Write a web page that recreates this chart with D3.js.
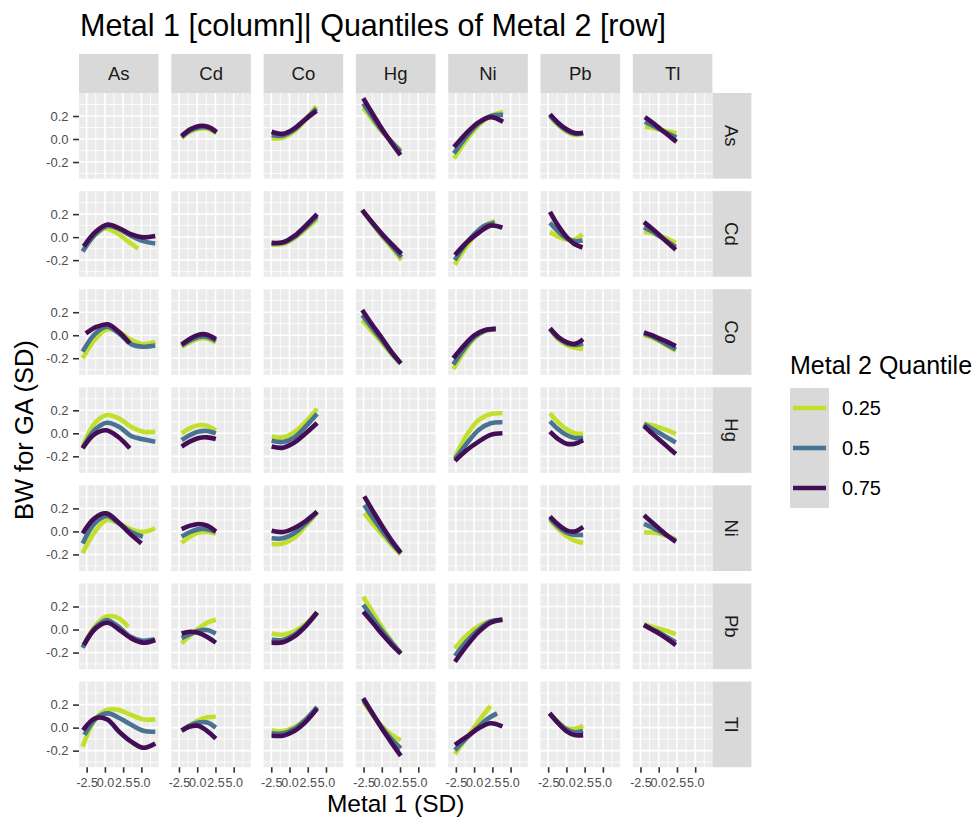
<!DOCTYPE html>
<html>
<head>
<meta charset="utf-8">
<script src="https://cdn.jsdelivr.net/npm/d3@7"></script>
<style>
  body { margin: 0; background: #ffffff; }
  text { font-family: "Liberation Sans", Arial, sans-serif; }
</style>
</head>
<body>
<div id="chart"></div>
<script>

var metals = ["As", "Cd", "Co", "Hg", "Ni", "Pb", "Tl"];
var quantiles = ["0.25", "0.5", "0.75"];
var colours = ["#c3df2d", "#4a7291", "#430e55"];

var xTicks = [-2.5, 0, 2.5, 5];
var xMinor = [-1.25, 1.25, 3.75, 6.25];
var yTicks = [-0.2, 0, 0.2];
var yMinor = [-0.3, -0.1, 0.1, 0.3];
var xLimits = [-3.55, 7.36];
var yLimits = [-0.344, 0.4];

// one row per Metal 2 facet: [metal 1, quantile, first x, last x, fitted values at even steps]
var rowAs = [
	["Cd", "0.25", -2.13, 2.64, [0.01, 0.065, 0.09, 0.09, 0.05]],
	["Cd", "0.5", -2.13, 2.64, [0.018, 0.075, 0.10, 0.10, 0.057]],
	["Cd", "0.75", -2.13, 2.64, [0.026, 0.084, 0.113, 0.107, 0.063]],
	["Co", "0.25", -2.45, 3.69, [0.005, 0.01, 0.065, 0.165, 0.285]],
	["Co", "0.5", -2.45, 3.69, [0.035, 0.03, 0.08, 0.17, 0.265]],
	["Co", "0.75", -2.45, 3.69, [0.063, 0.045, 0.09, 0.17, 0.245]],
	["Hg", "0.25", -2.54, 2.56, [0.27, 0.165, 0.065, -0.02, -0.095]],
	["Hg", "0.5", -2.54, 2.56, [0.31, 0.19, 0.075, -0.02, -0.11]],
	["Hg", "0.75", -2.54, 2.56, [0.354, 0.22, 0.09, -0.03, -0.14]],
	["Ni", "0.25", -2.76, 3.97, [-0.17, -0.01, 0.12, 0.2, 0.235]],
	["Ni", "0.5", -2.76, 3.97, [-0.125, 0.02, 0.135, 0.2, 0.21]],
	["Ni", "0.75", -2.76, 3.97, [-0.07, 0.05, 0.145, 0.19, 0.15]],
	["Pb", "0.25", -2.25, 2.29, [0.195, 0.12, 0.065, 0.035, 0.045]],
	["Pb", "0.5", -2.25, 2.29, [0.205, 0.13, 0.075, 0.045, 0.05]],
	["Pb", "0.75", -2.25, 2.29, [0.215, 0.14, 0.085, 0.052, 0.055]],
	["Tl", "0.25", -1.89, 2.44, [0.105, 0.095, 0.08, 0.065, 0.05]],
	["Tl", "0.5", -1.89, 2.44, [0.15, 0.115, 0.08, 0.045, 0.015]],
	["Tl", "0.75", -1.89, 2.44, [0.19, 0.14, 0.085, 0.03, -0.025]]
];

var rowCd = [
	["As", "0.25", -3.0, 4.55, [-0.115, 0.01, 0.075, 0.04, -0.03, -0.10]],
	["As", "0.5", -3.05, 6.9, [-0.125, 0.02, 0.095, 0.07, 0.01, -0.035, -0.055]],
	["As", "0.75", -2.9, 6.9, [-0.08, 0.047, 0.11, 0.076, 0.024, -0.002, 0.01]],
	["Co", "0.25", -2.45, 3.78, [-0.065, -0.06, -0.01, 0.07, 0.155]],
	["Co", "0.5", -2.45, 3.78, [-0.055, -0.05, 0.0, 0.085, 0.18]],
	["Co", "0.75", -2.45, 3.78, [-0.05, -0.045, 0.01, 0.1, 0.2]],
	["Hg", "0.25", -2.68, 2.7, [0.23, 0.12, 0.01, -0.09, -0.2]],
	["Hg", "0.5", -2.68, 2.7, [0.235, 0.125, 0.02, -0.075, -0.175]],
	["Hg", "0.75", -2.68, 2.7, [0.235, 0.13, 0.03, -0.06, -0.145]],
	["Ni", "0.25", -2.65, 2.85, [-0.24, -0.1, 0.015, 0.1, 0.14]],
	["Ni", "0.5", -2.65, 2.85, [-0.2, -0.07, 0.03, 0.1, 0.125]],
	["Ni", "0.75", -2.62, 3.88, [-0.156, -0.045, 0.038, 0.1, 0.082]],
	["Pb", "0.25", -2.25, 2.21, [0.045, 0.005, -0.02, -0.02, 0.025]],
	["Pb", "0.5", -2.25, 2.21, [0.125, 0.05, -0.01, -0.035, -0.03]],
	["Pb", "0.75", -2.25, 2.21, [0.22, 0.1, 0.005, -0.06, -0.09]],
	["Tl", "0.25", -2.02, 2.34, [0.045, 0.035, 0.01, -0.015, -0.05]],
	["Tl", "0.5", -2.02, 2.34, [0.085, 0.05, 0.005, -0.04, -0.085]],
	["Tl", "0.75", -2.02, 2.34, [0.13, 0.075, 0.015, -0.05, -0.11]]
];

var rowCo = [
	["As", "0.25", -3.05, 6.9, [-0.2, -0.04, 0.05, 0.03, -0.04, -0.077, -0.057]],
	["As", "0.5", -3.05, 6.9, [-0.143, 0.01, 0.074, 0.016, -0.077, -0.1, -0.09]],
	["As", "0.75", -2.6, 3.41, [0.016, 0.074, 0.095, 0.03, -0.07]],
	["Cd", "0.25", -2.13, 2.55, [-0.1, -0.06, -0.03, -0.03, -0.065]],
	["Cd", "0.5", -2.13, 2.55, [-0.09, -0.045, -0.015, -0.015, -0.05]],
	["Cd", "0.75", -2.13, 2.55, [-0.08, -0.03, 0.005, 0.005, -0.035]],
	["Hg", "0.25", -2.68, 2.6, [0.13, 0.035, -0.06, -0.16, -0.245]],
	["Hg", "0.5", -2.68, 2.6, [0.175, 0.065, -0.04, -0.15, -0.245]],
	["Hg", "0.75", -2.68, 2.6, [0.22, 0.095, -0.02, -0.14, -0.245]],
	["Ni", "0.25", -2.85, 2.97, [-0.295, -0.145, -0.025, 0.035, 0.05]],
	["Ni", "0.5", -2.85, 2.97, [-0.255, -0.12, -0.015, 0.04, 0.055]],
	["Ni", "0.75", -2.85, 2.97, [-0.2, -0.09, 0.0, 0.045, 0.055]],
	["Pb", "0.25", -2.25, 2.29, [0.05, -0.035, -0.085, -0.11, -0.12]],
	["Pb", "0.5", -2.25, 2.29, [0.055, -0.025, -0.07, -0.085, -0.075]],
	["Pb", "0.75", -2.25, 2.29, [0.06, -0.015, -0.06, -0.075, -0.035]],
	["Tl", "0.25", -2.02, 2.34, [0.0, -0.02, -0.055, -0.095, -0.135]],
	["Tl", "0.5", -2.02, 2.34, [0.015, -0.01, -0.045, -0.085, -0.125]],
	["Tl", "0.75", -2.02, 2.34, [0.025, 0.0, -0.03, -0.06, -0.095]]
];

var rowHg = [
	["As", "0.25", -3.05, 6.9, [-0.116, 0.087, 0.159, 0.13, 0.057, 0.014, 0.014]],
	["As", "0.5", -3.05, 6.9, [-0.13, 0.029, 0.092, 0.057, -0.023, -0.052, -0.073]],
	["As", "0.75", -3.05, 3.41, [-0.13, -0.01, 0.026, -0.03, -0.13]],
	["Cd", "0.25", -2.13, 2.55, [0.0, 0.045, 0.07, 0.065, 0.025]],
	["Cd", "0.5", -2.13, 2.55, [-0.058, -0.015, 0.015, 0.02, 0.0]],
	["Cd", "0.75", -2.13, 2.55, [-0.115, -0.07, -0.04, -0.035, -0.05]],
	["Co", "0.25", -2.45, 3.78, [-0.03, -0.035, 0.01, 0.1, 0.215]],
	["Co", "0.5", -2.45, 3.78, [-0.065, -0.075, -0.035, 0.06, 0.17]],
	["Co", "0.75", -2.45, 3.78, [-0.115, -0.125, -0.08, 0.0, 0.09]],
	["Ni", "0.25", -2.62, 3.88, [-0.207, -0.014, 0.116, 0.168, 0.174]],
	["Ni", "0.5", -2.62, 3.88, [-0.225, -0.087, 0.029, 0.087, 0.096]],
	["Ni", "0.75", -2.62, 3.88, [-0.24, -0.145, -0.072, -0.014, 0.0]],
	["Pb", "0.25", -2.25, 2.29, [0.175, 0.095, 0.035, 0.0, -0.005]],
	["Pb", "0.5", -2.25, 2.29, [0.105, 0.035, -0.015, -0.04, -0.04]],
	["Pb", "0.75", -2.25, 2.29, [0.015, -0.05, -0.09, -0.09, -0.06]],
	["Tl", "0.25", -2.02, 2.34, [0.085, 0.07, 0.05, 0.025, -0.005]],
	["Tl", "0.5", -2.02, 2.34, [0.08, 0.04, 0.0, -0.04, -0.08]],
	["Tl", "0.75", -2.02, 2.34, [0.065, 0.0, -0.06, -0.12, -0.18]]
];

var rowNi = [
	["As", "0.25", -3.05, 6.9, [-0.19, -0.003, 0.099, 0.07, 0.018, -0.003, 0.027]],
	["As", "0.5", -3.05, 5.2, [-0.104, 0.07, 0.134, 0.07, -0.003, -0.046]],
	["As", "0.75", -3.05, 5.0, [-0.017, 0.114, 0.157, 0.084, -0.017, -0.104]],
	["Cd", "0.25", -2.13, 2.55, [-0.1, -0.045, -0.01, -0.005, -0.02]],
	["Cd", "0.5", -2.13, 2.55, [-0.045, -0.005, 0.02, 0.02, -0.005]],
	["Cd", "0.75", -2.13, 2.55, [0.02, 0.05, 0.065, 0.05, 0.0]],
	["Co", "0.25", -2.45, 3.78, [-0.11, -0.105, -0.055, 0.05, 0.165]],
	["Co", "0.5", -2.45, 3.78, [-0.06, -0.06, -0.015, 0.07, 0.17]],
	["Co", "0.75", -2.45, 3.78, [0.005, -0.005, 0.03, 0.09, 0.17]],
	["Hg", "0.25", -2.4, 2.6, [0.16, 0.06, -0.03, -0.12, -0.2]],
	["Hg", "0.5", -2.4, 2.6, [0.23, 0.11, 0.0, -0.1, -0.19]],
	["Hg", "0.75", -2.4, 2.6, [0.305, 0.17, 0.04, -0.08, -0.185]],
	["Pb", "0.25", -2.25, 2.29, [0.1, 0.02, -0.04, -0.08, -0.1]],
	["Pb", "0.5", -2.25, 2.29, [0.115, 0.04, -0.01, -0.03, -0.03]],
	["Pb", "0.75", -2.25, 2.29, [0.13, 0.06, 0.01, 0.0, 0.04]],
	["Tl", "0.25", -2.02, 2.34, [-0.01, -0.01, -0.02, -0.04, -0.07]],
	["Tl", "0.5", -2.02, 2.34, [0.065, 0.035, 0.0, -0.04, -0.08]],
	["Tl", "0.75", -2.02, 2.34, [0.14, 0.08, 0.02, -0.04, -0.09]]
];

var rowPb = [
	["As", "0.25", -2.95, 3.2, [-0.143, 0.024, 0.111, 0.106, 0.024]],
	["As", "0.5", -3.05, 6.8, [-0.158, 0.01, 0.083, 0.024, -0.063, -0.097, -0.085]],
	["As", "0.75", -2.9, 6.9, [-0.135, 0.01, 0.059, -0.004, -0.077, -0.115, -0.091]],
	["Cd", "0.25", -2.13, 2.55, [-0.12, -0.05, 0.01, 0.06, 0.085]],
	["Cd", "0.5", -2.13, 2.55, [-0.075, -0.04, -0.01, -0.005, -0.035]],
	["Cd", "0.75", -2.13, 2.55, [-0.035, -0.02, -0.03, -0.065, -0.115]],
	["Co", "0.25", -2.45, 3.78, [-0.035, -0.045, -0.015, 0.05, 0.14]],
	["Co", "0.5", -2.45, 3.78, [-0.09, -0.09, -0.045, 0.035, 0.145]],
	["Co", "0.75", -2.45, 3.78, [-0.115, -0.11, -0.06, 0.03, 0.15]],
	["Hg", "0.25", -2.54, 2.6, [0.285, 0.15, 0.02, -0.1, -0.205]],
	["Hg", "0.5", -2.54, 2.6, [0.215, 0.1, -0.01, -0.11, -0.205]],
	["Hg", "0.75", -2.54, 2.6, [0.155, 0.06, -0.04, -0.13, -0.21]],
	["Ni", "0.25", -2.62, 3.88, [-0.165, -0.05, 0.03, 0.075, 0.08]],
	["Ni", "0.5", -2.62, 3.88, [-0.23, -0.1, 0.0, 0.07, 0.085]],
	["Ni", "0.75", -2.62, 3.88, [-0.28, -0.14, -0.02, 0.06, 0.085]],
	["Tl", "0.25", -2.02, 2.34, [0.045, 0.025, 0.005, -0.015, -0.04]],
	["Tl", "0.5", -2.02, 2.34, [0.04, 0.005, -0.03, -0.07, -0.11]],
	["Tl", "0.75", -2.02, 2.34, [0.04, 0.0, -0.04, -0.085, -0.135]]
];

var rowTl = [
	["As", "0.25", -3.05, 6.9, [-0.166, 0.066, 0.153, 0.153, 0.11, 0.072, 0.072]],
	["As", "0.5", -2.8, 6.9, [-0.064, 0.081, 0.124, 0.081, 0.023, -0.027, -0.036]],
	["As", "0.75", -3.0, 6.9, [-0.021, 0.081, 0.072, -0.036, -0.122, -0.175, -0.137]],
	["Cd", "0.25", -2.13, 2.55, [-0.03, 0.02, 0.065, 0.09, 0.095]],
	["Cd", "0.5", -2.13, 2.55, [-0.025, 0.02, 0.045, 0.045, 0.0]],
	["Cd", "0.75", -2.13, 2.55, [-0.025, 0.01, 0.015, -0.03, -0.095]],
	["Co", "0.25", -2.45, 3.78, [-0.025, -0.03, 0.005, 0.075, 0.175]],
	["Co", "0.5", -2.45, 3.78, [-0.05, -0.05, -0.01, 0.07, 0.18]],
	["Co", "0.75", -2.45, 3.78, [-0.07, -0.07, -0.03, 0.05, 0.165]],
	["Hg", "0.25", -2.54, 2.6, [0.225, 0.11, 0.01, -0.06, -0.11]],
	["Hg", "0.5", -2.54, 2.6, [0.245, 0.12, 0.0, -0.1, -0.18]],
	["Hg", "0.75", -2.54, 2.6, [0.255, 0.12, -0.01, -0.13, -0.245]],
	["Ni", "0.25", -2.62, 2.25, [-0.23, -0.12, -0.015, 0.09, 0.188]],
	["Ni", "0.5", -2.62, 3.15, [-0.195, -0.1, -0.014, 0.07, 0.124]],
	["Ni", "0.75", -2.62, 3.88, [-0.15, -0.078, -0.006, 0.038, 0.01]],
	["Pb", "0.25", -2.3, 2.29, [0.125, 0.05, -0.005, -0.01, 0.015]],
	["Pb", "0.5", -2.3, 2.29, [0.125, 0.045, -0.015, -0.04, -0.03]],
	["Pb", "0.75", -2.3, 2.29, [0.125, 0.04, -0.03, -0.065, -0.065]]
];

var rows = { As: rowAs, Cd: rowCd, Co: rowCo, Hg: rowHg, Ni: rowNi, Pb: rowPb, Tl: rowTl };


function toPoints(entry) {
	var x0 = entry[2], x1 = entry[3], ys = entry[4];
	var step = (x1 - x0) / (ys.length - 1);
	return ys.map(function(v, i) { return [x0 + i * step, v]; });
}

function fmt(d) { return d.toFixed(1); }

createChart();

function createChart() {
	var width = 974;
	var height = 818;

	var colScale = d3.scaleBand()
		.domain(metals)
		.range([79, 712.4])
		.paddingInner(0.1376);

	var rowScale = d3.scaleBand()
		.domain(metals)
		.range([93, 767.2])
		.paddingInner(0.1274);

	var pw = colScale.bandwidth();
	var ph = rowScale.bandwidth();

	var x = d3.scaleLinear().domain(xLimits).range([0, pw]);
	var y = d3.scaleLinear().domain(yLimits).range([ph, 0]);

	var colour = d3.scaleOrdinal().domain(quantiles).range(colours);

	var line = d3.line()
		.x(function(d) { return x(d[0]); })
		.y(function(d) { return y(d[1]); })
		.curve(d3.curveCatmullRom.alpha(0.5));

	var svg = d3.select("#chart")
		.append("svg")
		.attr("width", width)
		.attr("height", height)
		.style("display", "block");

	svg.append("rect").attr("width", width).attr("height", height).attr("fill", "#ffffff");

	// title
	svg.append("text")
		.attr("x", 80)
		.attr("y", 36)
		.attr("font-size", 30.5)
		.attr("fill", "#000000")
		.text("Metal 1 [column]| Quantiles of Metal 2 [row]");

	// top strips
	var top = svg.selectAll(".strip-top")
		.data(metals)
		.enter()
		.append("g")
		.attr("transform", function(d) { return "translate(" + colScale(d) + ",54)"; });
	top.append("rect")
		.attr("width", pw)
		.attr("height", 39)
		.attr("fill", "#d9d9d9");
	top.append("text")
		.attr("x", pw / 2)
		.attr("y", 19.5)
		.attr("dy", "0.36em")
		.attr("text-anchor", "middle")
		.attr("font-size", 18.5)
		.attr("fill", "#1a1a1a")
		.text(function(d) { return d; });

	// right strips
	var right = svg.selectAll(".strip-right")
		.data(metals)
		.enter()
		.append("g")
		.attr("transform", function(d) { return "translate(" + (colScale("Tl") + pw) + "," + rowScale(d) + ")"; });
	right.append("rect")
		.attr("width", 39)
		.attr("height", ph)
		.attr("fill", "#d9d9d9");
	right.append("text")
		.attr("transform", "translate(19.5," + (ph / 2) + ") rotate(90)")
		.attr("dy", "0.36em")
		.attr("text-anchor", "middle")
		.attr("font-size", 18.5)
		.attr("fill", "#1a1a1a")
		.text(function(d) { return d; });

	// panels
	metals.forEach(function(m2) {
		metals.forEach(function(m1) {
			var g = svg.append("g")
				.attr("transform", "translate(" + colScale(m1) + "," + rowScale(m2) + ")");

			g.append("rect")
				.attr("width", pw)
				.attr("height", ph)
				.attr("fill", "#ebebeb");

			g.selectAll(".vminor").data(xMinor).enter().append("line")
				.attr("x1", function(d) { return x(d); }).attr("x2", function(d) { return x(d); })
				.attr("y1", 0).attr("y2", ph)
				.attr("stroke", "#ffffff").attr("stroke-width", 0.8);
			g.selectAll(".hminor").data(yMinor).enter().append("line")
				.attr("y1", function(d) { return y(d); }).attr("y2", function(d) { return y(d); })
				.attr("x1", 0).attr("x2", pw)
				.attr("stroke", "#ffffff").attr("stroke-width", 0.8);
			g.selectAll(".vmajor").data(xTicks).enter().append("line")
				.attr("x1", function(d) { return x(d); }).attr("x2", function(d) { return x(d); })
				.attr("y1", 0).attr("y2", ph)
				.attr("stroke", "#ffffff").attr("stroke-width", 1.6);
			g.selectAll(".hmajor").data(yTicks).enter().append("line")
				.attr("y1", function(d) { return y(d); }).attr("y2", function(d) { return y(d); })
				.attr("x1", 0).attr("x2", pw)
				.attr("stroke", "#ffffff").attr("stroke-width", 1.6);

			var curves = rows[m2].filter(function(e) { return e[0] === m1; });
			g.selectAll(".curve")
				.data(curves)
				.enter()
				.append("path")
				.attr("d", function(e) { return line(toPoints(e)); })
				.attr("fill", "none")
				.attr("stroke", function(e) { return colour(e[1]); })
				.attr("stroke-width", 4.6);

			if (m1 === "As") {
				var ya = g.append("g")
					.call(d3.axisLeft(y).tickValues(yTicks).tickFormat(fmt).tickSize(6).tickPadding(4.5));
				styleAxis(ya, 13);
			}
			if (m2 === "Tl") {
				var xa = g.append("g")
					.attr("transform", "translate(0," + ph + ")")
					.call(d3.axisBottom(x).tickValues(xTicks).tickFormat(fmt).tickSize(5.5).tickPadding(5.5));
				styleAxis(xa, 12.5);
			}
		});
	});

	// axis titles
	svg.append("text")
		.attr("x", (colScale.range()[0] + colScale.range()[1]) / 2)
		.attr("y", 812)
		.attr("text-anchor", "middle")
		.attr("font-size", 24.5)
		.attr("fill", "#000000")
		.text("Metal 1 (SD)");

	svg.append("text")
		.attr("transform", "translate(33," + ((rowScale.range()[0] + rowScale.range()[1]) / 2) + ") rotate(-90)")
		.attr("text-anchor", "middle")
		.attr("font-size", 25.5)
		.attr("fill", "#000000")
		.text("BW for GA (SD)");

	// legend
	var legend = svg.append("g").attr("transform", "translate(790,374)");
	legend.append("text")
		.attr("x", 0)
		.attr("y", 0)
		.attr("font-size", 25)
		.attr("fill", "#000000")
		.text("Metal 2 Quantile");

	var keys = legend.selectAll(".key")
		.data(quantiles)
		.enter()
		.append("g")
		.attr("transform", function(d, i) { return "translate(0," + (14 + i * 40) + ")"; });
	keys.append("rect")
		.attr("width", 39)
		.attr("height", 40)
		.attr("fill", "#d9d9d9");
	keys.append("line")
		.attr("x1", 3).attr("x2", 36)
		.attr("y1", 20).attr("y2", 20)
		.attr("stroke", function(d) { return colour(d); })
		.attr("stroke-width", 4.6);
	keys.append("text")
		.attr("x", 52)
		.attr("y", 20)
		.attr("dy", "0.36em")
		.attr("font-size", 20)
		.attr("fill", "#000000")
		.text(function(d) { return d; });
}

function styleAxis(a, size) {
	a.select(".domain").remove();
	a.selectAll(".tick line").attr("stroke", "#333333").attr("stroke-width", 1.6);
	a.selectAll(".tick text")
		.attr("fill", "#4d4d4d")
		.attr("font-size", size)
		.attr("font-family", "Liberation Sans, Arial, sans-serif");
}

</script>
</body>
</html>
